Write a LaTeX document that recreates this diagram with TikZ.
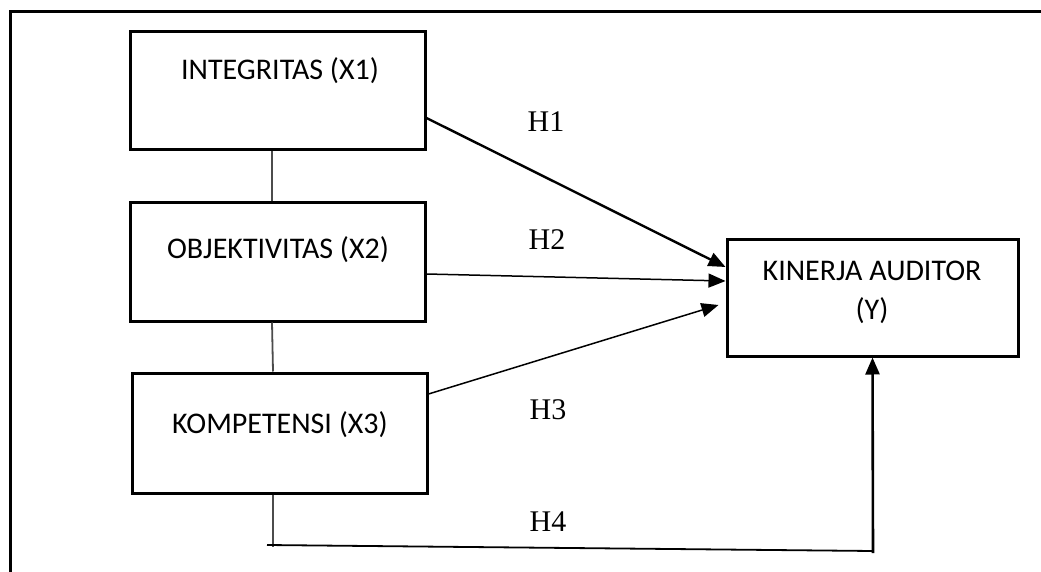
\documentclass[tikz,border=0pt]{standalone}
\usepackage{fontspec}
\setmainfont{Liberation Serif}
\newfontfamily\boxfont{Carlito}
\usetikzlibrary{arrows.meta}
\begin{document}
\begin{tikzpicture}[x=1pt,y=-1pt,
  varbox/.style={draw,line width=3pt,minimum width=#1,inner sep=0pt},
  boxtext/.style={font=\boxfont\fontsize{30}{34}\selectfont,inner sep=0pt},
  hlabel/.style={font=\fontsize{30}{32}\selectfont,inner sep=0pt},
  link/.style={draw=black!70,line width=1.8pt},
  tip/.style={-{Triangle[length=17pt,width=14pt]}},
  frame/.style={line width=3pt}]
\useasboundingbox (0,0) rectangle (1041,572);
% frame
\coordinate (f0) at (10,572);
\coordinate (f1) at (10,12);
\coordinate (f2) at (1041,12);
\draw[frame] (f0) -- (f1) -- (f2);
% boxes
\node[varbox=295pt,minimum height=118pt] (x1) at (277.5,91) {};
\node[varbox=295pt,minimum height=118pt] (x2) at (277.5,262) {};
\node[varbox=295pt,minimum height=120pt] (x3) at (279.5,433) {};
\node[varbox=291pt,minimum height=117pt] (y) at (872.5,297.5) {};
% texts
\node[boxtext] (t1) at (280,71) {INTEGRITAS (X1)};
\node[boxtext] (t2) at (278,250) {OBJEKTIVITAS (X2)};
\node[boxtext] (t3) at (280,425) {KOMPETENSI (X3)};
\node[boxtext] (ty1) at (872,271) {KINERJA AUDITOR};
\node[boxtext] (ty2) at (872,311) {(Y)};
% H labels
\node[hlabel] (h1) at (546,122) {H1};
\node[hlabel] (h2) at (547,240) {H2};
\node[hlabel] (h3) at (548,410) {H3};
\node[hlabel] (h4) at (548,522) {H4};
% links between X boxes
\draw[link] ([xshift=-5.5pt]x1.south) -- ([xshift=-5.5pt]x2.north);
\draw[link] ([xshift=-5.5pt]x2.south) -- ([xshift=-6.5pt]x3.north);
% arrows
\draw[tip,line width=2.4pt] ([yshift=-27pt]x1.east) -- ([yshift=30.5pt]y.west);
\draw[tip,line width=1.5pt] ([yshift=-12pt]x2.east) -- ([yshift=16.5pt]y.west);
\draw[tip,line width=1.5pt] ([yshift=39pt]x3.east) -- ([xshift=-7pt,yshift=-7.5pt]y.west);
% H4 path
\coordinate (c1) at (273,547);
\coordinate (c0) at (267,545);
\coordinate (c2) at (873,551);
\coordinate (c3) at (873,553);
\draw[link,line width=2pt] ([xshift=-6.5pt]x3.south) -- (c1);
\draw[line width=1.8pt] (c0) -- (c2);
\draw[tip,line width=2.6pt] (c3) -- (y.south);
\end{tikzpicture}
\end{document}
